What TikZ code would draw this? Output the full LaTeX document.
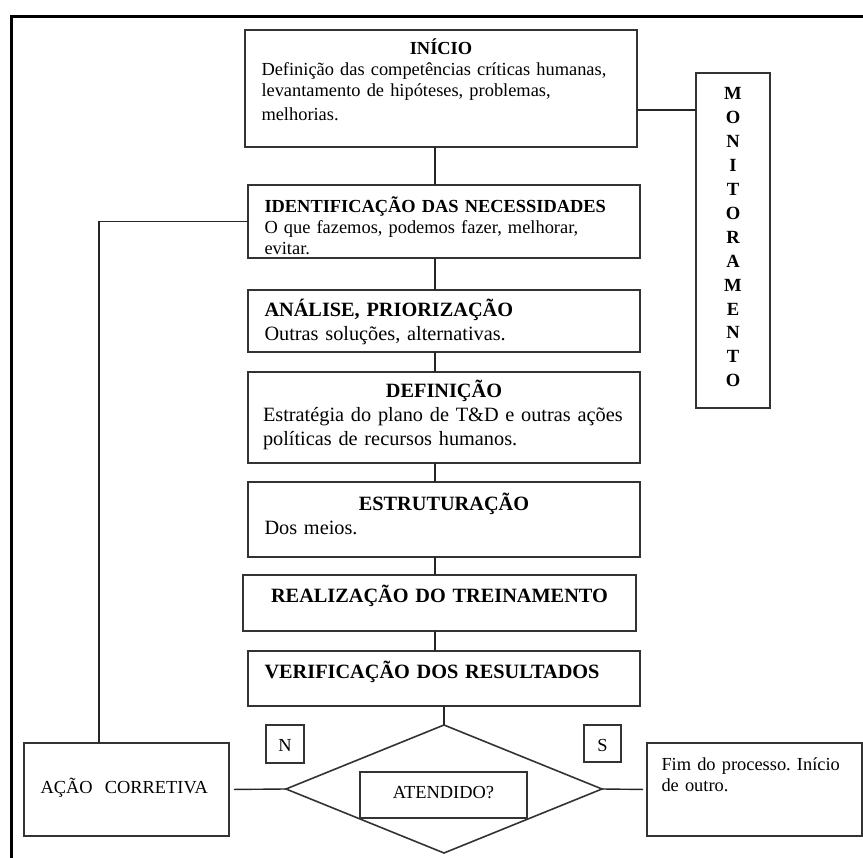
\documentclass[tikz,border=0pt]{standalone}
\usepackage{fontspec}
\setmainfont{Liberation Serif}
\usetikzlibrary{shapes.geometric}
\newcommand{\fontA}{\fontsize{18.4}{21}\selectfont}
\newcommand{\fontB}{\fontsize{20.3}{24}\selectfont}
\hbadness=10000
\hyphenpenalty=10000
\frenchspacing

\begin{document}
\begin{tikzpicture}[x=1pt, y=-1pt,
		caixa/.style n args={3}{draw=black!80, line width=1.6pt, rectangle, anchor=north west,
			outer sep=0pt, inner ysep=0pt, inner xsep=16.5pt, align=left, font=\fontA,
			text width=#1, text height=#2, text depth=#3},
		losango/.style={draw=black!80, line width=1.6pt, diamond, inner sep=0pt, outer sep=0pt},
		ligacao/.style={draw=black!85, line width=1.4pt}]
		
		\useasboundingbox (0,0) rectangle (863,858);
		% moldura
		\draw[line width=3.3pt] (11.5,858) -- (11.5,16.5) -- (863,16.5);
		
		\node[caixa={359pt}{25pt}{92pt}] (inicio) at (245,30)
		{{\centering\bfseries INÍCIO\par}Definição das competências críticas humanas,\\
			levantamento de hipóteses, problemas,\\[3pt] melhorias.};
		\node[caixa={359pt}{28pt}{45pt}] (ident) at (248,185)
		{\textbf{IDENTIFICAÇÃO DAS NECESSIDADES}\\ O que fazemos, podemos fazer, melhorar,\\ evitar.};
		\node[caixa={359pt}{27pt}{35pt}, font=\fontB] (analise) at (248,290)
		{\textbf{ANÁLISE, PRIORIZAÇÃO}\\ Outras soluções, alternativas.};
		\node[caixa={362pt}{26pt}{65pt}, inner xsep=15pt, font=\fontB] (definicao) at (248,372)
		{{\centering\bfseries DEFINIÇÃO\par}Estratégia do plano de T\&D e outras ações\\ políticas de recursos humanos.};
		\node[caixa={359pt}{29pt}{46pt}, font=\fontB] (estrut) at (248,482)
		{{\centering\bfseries ESTRUTURAÇÃO\par}Dos meios.};
		\node[caixa={360pt}{27pt}{29pt}, font=\fontB\bfseries, align=center] (realiz) at (243,575)
		{REALIZAÇÃO DO TREINAMENTO};
		\node[caixa={359pt}{27pt}{28pt}, font=\fontB\bfseries] (verif) at (248,651)
		{VERIFICAÇÃO DOS RESULTADOS};
		
		\node[caixa={41pt}{27pt}{308pt}, align=center, font=\fontsize{18.6}{23.9}\selectfont\bfseries] (monitor) at (696,73)
		{M\\O\\N\\I\\T\\O\\R\\A\\M\\E\\N\\T\\O};
		
		\node[losango, minimum width=316pt, minimum height=128pt] (decisao) at (444,789) {};
		\node[caixa={134pt}{26pt}{20pt}, align=center] (atendido) at (360,772) {ATENDIDO?};
		\node[caixa={38pt}{26pt}{12pt}, inner xsep=0pt, align=center] (nao) at (266,725) {N};
		\node[caixa={37pt}{26pt}{11pt}, inner xsep=0pt, align=center] (sim) at (584,725) {S};
		
		\node[caixa={172pt}{50pt}{43pt}] (acao) at (24,743) {AÇÃO\ \ CORRETIVA};
		\node[caixa={186pt}{27pt}{66pt}, inner xsep=14.5pt] (fim) at (647,743) {Fim do processo. Início\\ de outro.};
		
		\coordinate (eixo) at (435,0);
		\coordinate (volta) at (99,0);
		\coordinate (elo) at (666,110);
		
		\path[ligacao]
		(inicio.south -| eixo) edge (ident.north -| eixo)
		(ident.south -| eixo) edge (analise.north -| eixo)
		(analise.south -| eixo) edge (definicao.north -| eixo)
		(definicao.south -| eixo) edge (estrut.north -| eixo)
		(estrut.south -| eixo) edge (realiz.north -| eixo)
		(realiz.south -| eixo) edge (verif.north -| eixo)
		(verif.south -| decisao.north) edge (decisao.north)
		(inicio.east |- elo) edge (monitor.west |- elo)
		(acao.east) edge [shorten <=5pt] (decisao.west)
		(decisao.east) edge [shorten >=4pt] (fim.west);
		\draw[ligacao] (ident.west) -| (volta |- acao.north);
		\end{tikzpicture}
\end{document}
